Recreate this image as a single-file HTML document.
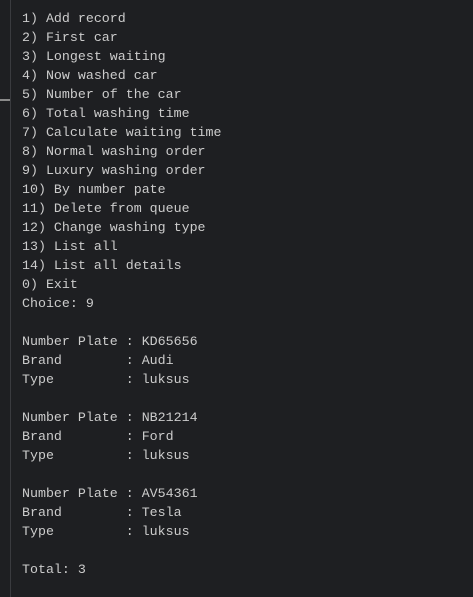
<!DOCTYPE html>
<html><head><style>
html,body{margin:0;padding:0;background:#1e1f22;width:473px;height:597px;overflow:hidden}
.bar{position:absolute;left:10px;top:0;width:1px;height:597px;background:#3a3b3f}
.cur{position:absolute;left:0;top:99px;width:10px;height:2px;background:#8a8a8a}
pre{position:absolute;left:22px;top:9px;margin:0;font-family:"Liberation Mono",monospace;font-size:13.3px;line-height:19px;color:#cccccc}
</style></head><body>
<div class="bar"></div><div class="cur"></div>
<pre>1) Add record
2) First car
3) Longest waiting
4) Now washed car
5) Number of the car
6) Total washing time
7) Calculate waiting time
8) Normal washing order
9) Luxury washing order
10) By number pate
11) Delete from queue
12) Change washing type
13) List all
14) List all details
0) Exit
Choice: 9

Number Plate : KD65656
Brand        : Audi
Type         : luksus

Number Plate : NB21214
Brand        : Ford
Type         : luksus

Number Plate : AV54361
Brand        : Tesla
Type         : luksus

Total: 3</pre>
</body></html>
